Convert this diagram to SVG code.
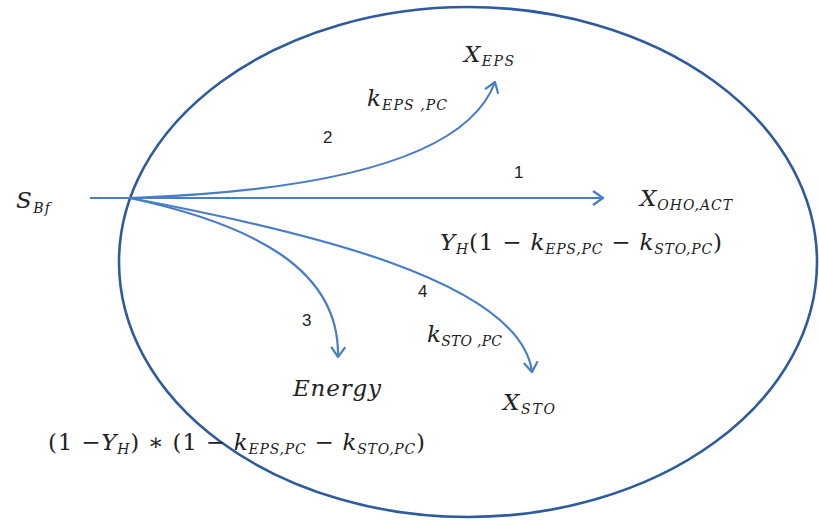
<svg xmlns="http://www.w3.org/2000/svg" width="819" height="523" viewBox="0 0 819 523">
<style>
.m{font-family:"DejaVu Serif","Liberation Serif",serif;font-style:italic;font-size:23px;fill:#222}
.s{font-size:14px}
.r{font-style:normal}
.n{font-family:"Liberation Sans",Arial,sans-serif;font-size:17px;fill:#222}
.a{fill:none;stroke:#4a7ec4;stroke-width:2.2;marker-end:url(#ah)}
</style>
<defs>
<marker id="ah" viewBox="0 0 12 16" refX="11" refY="8" markerWidth="12" markerHeight="16" markerUnits="userSpaceOnUse" orient="auto">
<path d="M1,1 L11,8 L1,15" fill="none" stroke="#4a7ec4" stroke-width="2.2"/>
</marker>
</defs>
<g id="boundary">
<ellipse cx="468" cy="262" rx="349" ry="255" fill="none" stroke="#2f5b9c" stroke-width="2.6"/>
</g>
<g id="connectors">
<path class="a" d="M90,198 L603,198"/>
<path class="a" d="M130,198 C300,192 465,165 495,82"/>
<path class="a" d="M130,198 C255,225 340,270 338,357"/>
<path class="a" d="M130,198 C300,230 520,280 532,372"/>
</g>
<g id="S_Bf"><text class="m" x="16" y="208" textLength="34">S<tspan class="s" dy="5">Bf</tspan></text></g>
<g id="X_EPS"><text class="m" x="464" y="62" textLength="50">X<tspan class="s" dy="4">EPS</tspan></text></g>
<g id="X_OHO_ACT"><text class="m" x="640" y="206" textLength="92">X<tspan class="s" dy="4">OHO,ACT</tspan></text></g>
<g id="Energy"><text class="m" x="293" y="396" textLength="88">Energy</text></g>
<g id="X_STO"><text class="m" x="503" y="410" textLength="52">X<tspan class="s" dy="4">STO</tspan></text></g>
<g id="labels">
<text class="n" x="323" y="143">2</text>
<text class="n" x="514" y="178">1</text>
<text class="n" x="418" y="297">4</text>
<text class="n" x="302" y="326">3</text>
<text class="m" x="367" y="106" textLength="80">k<tspan class="s" dy="4">EPS ,PC</tspan></text>
<text class="m" x="427" y="342" textLength="75">k<tspan class="s" dy="4">STO ,PC</tspan></text>
<text class="m" x="440" y="250" textLength="282">Y<tspan class="s" dy="4">H</tspan><tspan class="r" dy="-4">(1 − </tspan>k<tspan class="s" dy="4">EPS,PC</tspan><tspan class="r" dy="-4"> − </tspan>k<tspan class="s" dy="4">STO,PC</tspan><tspan class="r" dy="-4">)</tspan></text>
<text class="m" x="48" y="450" textLength="377"><tspan class="r">(1 −</tspan>Y<tspan class="s" dy="4">H</tspan><tspan class="r" dy="-4">) ∗ (1 − </tspan>k<tspan class="s" dy="4">EPS,PC</tspan><tspan class="r" dy="-4"> − </tspan>k<tspan class="s" dy="4">STO,PC</tspan><tspan class="r" dy="-4">)</tspan></text>
</g>
</svg>
